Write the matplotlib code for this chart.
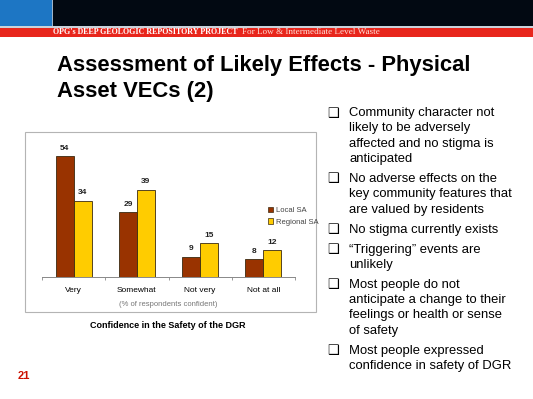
import numpy as np
import matplotlib.pyplot as plt
from matplotlib.patches import Rectangle, Patch

# ── Data ──────────────────────────────────────────────────────────────────────
categories  = ['Very', 'Somewhat', 'Not very', 'Not at all']
local_sa    = [54, 29, 9, 8]
regional_sa = [34, 39, 15, 12]
series_names = ['Local SA', 'Regional SA']

bullets = [
    ["Community character not", "likely to be adversely",
     "affected and no stigma is", "anticipated"],
    ["No adverse effects on the", "key community features that",
     "are valued by residents"],
    ["No stigma currently exists"],
    ["\u201cTriggering\u201d events are", "unlikely"],
    ["Most people do not", "anticipate a change to their",
     "feelings or health or sense", "of safety"],
    ["Most people expressed", "confidence in safety of DGR"],
]

# ── Figure / slide background (pixel coords) ─────────────────────────────────
W, H = 533, 399
plt.rcParams['font.family'] = ['Liberation Sans', 'DejaVu Sans']
fig = plt.figure(figsize=(W / 100, H / 100), dpi=100)

bg = fig.add_axes([0, 0, 1, 1])
bg.set_xlim(0, W); bg.set_ylim(H, 0); bg.axis('off')

# header bars
bg.add_patch(Rectangle((0, 0), W, 26, color='#020912', lw=0))
bg.add_patch(Rectangle((0, 0), 52, 26, color='#1d76c4', lw=0))
bg.add_patch(Rectangle((52, 0), 1, 26, color='#9fb4c8', lw=0))
bg.add_patch(Rectangle((0, 26), W, 2, color='#c9d2da', lw=0))
bg.add_patch(Rectangle((0, 28), W, 8.5, color='#e8261c', lw=0))
hdr = bg.text(53, 32.5, "OPG's DEEP GEOLOGIC REPOSITORY PROJECT", color='white',
              fontsize=5.8, fontweight='bold', family='Liberation Serif', va='center')
fig.canvas.draw()
hdr_end = hdr.get_window_extent().x1 + 4
bg.text(hdr_end, 32.5, "For Low & Intermediate Level Waste", color='#ffe0d8',
        fontsize=6.6, family='Liberation Serif', va='center')

# title
bg.text(57, 65, "Assessment of Likely Effects - Physical", fontsize=15.8,
        fontweight='bold', va='center')
bg.text(57, 91, "Asset VECs (2)", fontsize=15.8, fontweight='bold', va='center')

# chart frame + captions
bg.add_patch(Rectangle((25, 132), 291, 180, fill=False, ec='#b4b4b4', lw=0.8))
bg.text(168, 305, "(% of respondents confident)", fontsize=5.5, color='#777777',
        ha='center', va='center')
bg.text(167.5, 326, "Confidence in the Safety of the DGR", fontsize=6.5,
        fontweight='bold', ha='center', va='center')

# page number
bg.text(18, 376, "21", color='#cc1100', fontsize=8, fontweight='bold', va='center')

# bullets
y = 113
for lines in bullets:
    bg.text(333, y, "\u2751", fontsize=9.5, family='DejaVu Sans',
            ha='center', va='center')
    for j, line in enumerate(lines):
        bg.text(349, y + j * 15.3, line, fontsize=9.4, va='center')
    y += (len(lines) - 1) * 15.3 + 20

# ── Bar chart ─────────────────────────────────────────────────────────────────
ax = fig.add_axes([42 / W, (H - 277) / H, 253 / W, 134.4 / H])
ax.patch.set_alpha(0)
x = np.arange(len(categories))
bw = 0.285
colors = ['#993300', '#ffcc00']
for k, vals in enumerate([local_sa, regional_sa]):
    pos = x + (k - 0.5) * bw
    ax.bar(pos, vals, bw, color=colors[k], edgecolor='#3a2a10', lw=0.6)
    for p, v in zip(pos, vals):
        ax.annotate(str(v), (p, v), xytext=(0, 3.2), textcoords='offset points',
                    ha='center', va='bottom', fontsize=6, fontweight='bold',
                    color='#222222')

ax.set_xlim(-0.5, 3.5); ax.set_ylim(0, 60)
for s in ['left', 'right', 'top']:
    ax.spines[s].set_visible(False)
ax.spines['bottom'].set_color('#888888'); ax.spines['bottom'].set_linewidth(0.7)
ax.set_yticks([])
ax.set_xticks(x)
ax.set_xticklabels(categories, fontsize=6)
ax.set_xticks(np.arange(-0.5, 4, 1), minor=True)
ax.tick_params(which='major', length=0, pad=7)
ax.tick_params(which='minor', length=2.2, color='#888888', width=0.6)

handles = [Patch(facecolor=c, edgecolor='#3a2a10', lw=0.5) for c in colors]
ax.legend(handles, series_names, loc='upper left', frameon=False,
          bbox_to_anchor=(268 / W, 1 - 207 / H), bbox_transform=fig.transFigure,
          fontsize=5.5, handlelength=0.7, handleheight=0.7, handletextpad=0.3,
          labelspacing=0.5, borderpad=0, borderaxespad=0, labelcolor='#444444')

fig.savefig('out.png', dpi=100)
